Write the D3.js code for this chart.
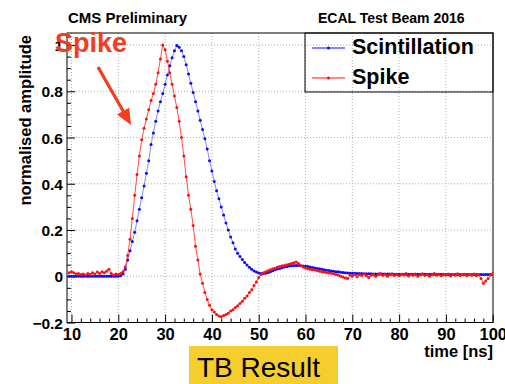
<!DOCTYPE html>
<html><head><meta charset="utf-8">
<script src="https://cdn.jsdelivr.net/npm/d3@7"></script>
<style>
body{margin:0;background:#fff}
svg{display:block}
text{font-family:"Liberation Sans",Arial,Helvetica,sans-serif}
</style>
</head><body>
<svg id="chart" width="505" height="384"></svg>
<script>
// ---- data (normalised amplitude vs time, sampled every 0.5 ns from 9.5 ns) ----
const timeStart = 9.5;
const timeStep = 0.5;
const scintillation = [
  0,
  0,0,0,0,0,0,0,0,0,0,
  0,0,0,0,0,0,0,0,0,0,
  0,0.002,0.01,0.03,0.07,0.11,0.15,0.19,0.24,0.29,
  0.34,0.39,0.445,0.50,0.57,0.62,0.67,0.715,0.755,0.79,
  0.83,0.87,0.91,0.945,0.975,0.998,0.99,0.975,0.95,0.915,
  0.875,0.835,0.795,0.755,0.715,0.675,0.635,0.595,0.55,0.50,
  0.455,0.41,0.37,0.335,0.30,0.265,0.23,0.20,0.17,0.145,
  0.118,0.10,0.085,0.072,0.06,0.049,0.039,0.03,0.023,0.018,
  0.014,0.012,0.012,0.013,0.016,0.02,0.024,0.028,0.031,0.034,
  0.037,0.04,0.042,0.044,0.045,0.046,0.046,0.046,0.045,0.044,
  0.043,0.042,0.040,0.038,0.036,0.034,0.032,0.030,0.028,0.026,
  0.025,0.023,0.022,0.020,0.019,0.017,0.016,0.015,0.014,0.013,
  0.013,0.013,0.012,0.012,0.012,0.011,0.011,0.011,0.011,0.010,
  0.010,0.010,0.010,0.010,0.010,0.010,0.010,0.009,0.009,0.009,
  0.009,0.009,0.009,0.009,0.009,0.009,0.009,0.009,0.009,0.009,
  0.009,0.009,0.009,0.009,0.009,0.009,0.009,0.009,0.009,0.009,
  0.008,0.008,0.008,0.008,0.008,0.008,0.008,0.008,0.008,0.008,
  0.008,0.008,0.008,0.008,0.008,0.008,0.008,0.008,0.008,0.008,
  0.008
];
const spike = [
  0.015,
  0.02,0.015,0.01,0.012,0.008,0.01,0.005,0.012,0.008,0.015,
  0.01,0.018,0.012,0.02,0.015,0.022,0.03,0.012,0.005,0.01,
  0.008,0.012,0.02,0.04,0.09,0.16,0.25,0.35,0.44,0.52,
  0.59,0.64,0.68,0.72,0.76,0.79,0.83,0.88,0.94,1.0,
  0.98,0.93,0.88,0.83,0.78,0.73,0.67,0.60,0.52,0.43,
  0.35,0.29,0.22,0.13,0.07,0.01,-0.03,-0.07,-0.10,-0.125,
  -0.145,-0.155,-0.165,-0.172,-0.175,-0.17,-0.165,-0.16,-0.15,-0.145,
  -0.135,-0.128,-0.118,-0.108,-0.095,-0.085,-0.07,-0.058,-0.04,-0.025,
  -0.005,0.008,0.015,0.02,0.024,0.028,0.032,0.035,0.04,0.042,
  0.045,0.047,0.05,0.052,0.055,0.058,0.062,0.055,0.045,0.04,
  0.036,0.032,0.03,0.028,0.027,0.025,0.022,0.02,0.018,0.016,
  0.014,0.013,0.011,0.008,0.005,0.0,-0.003,-0.008,-0.01,0.005,
  0.0,0.008,-0.002,0.006,0.003,0.01,0.002,-0.005,0.004,0.008,
  0.0,0.006,0.012,0.004,0.009,0.0,0.007,0.011,0.003,0.008,
  0.002,0.009,0.005,0.012,0.001,0.007,0.004,0.01,0.0,0.006,
  0.011,0.003,0.008,0.0,0.006,0.012,0.004,0.009,0.002,0.007,
  0.005,0.01,0.001,0.008,0.004,0.011,0.003,0.006,0.009,0.002,
  0.007,0.004,0.01,0.002,0.006,-0.01,-0.03,-0.02,-0.01,0.005,
  0.012
];
const xTicks = [10,20,30,40,50,60,70,80,90,100];
const xTickLabels = ["10","20","30","40","50","60","70","80","90","100"];
const yTicks = [-0.2,0,0.2,0.4,0.6,0.8,1];
const yTickLabels = ["\u22120.2","0","0.2","0.4","0.6","0.8","1"];
const seriesNames = ["Scintillation","Spike"];
const seriesColors = ["#0a0aff","#ff1010"];

// ---- layout ----
const L = 67, R = 493, T = 33, B = 322.5;
const svg = d3.select("#chart");
const x = d3.scaleLinear().domain([9.04, 100.06]).range([L, R]);
const y = d3.scaleLinear().domain([-0.2, 1.052]).range([B, T]);

const toPoints = arr => arr.map((v, i) => ({t: timeStart + i * timeStep, v}));
const series = [toPoints(scintillation), toPoints(spike)];

// grid
const grid = svg.append("g").attr("stroke", "#9a9a9a").attr("stroke-width", 0.8).attr("stroke-dasharray", "1,2");
xTicks.filter(t => x(t) > L + 1 && x(t) < R - 1).forEach(t => {
  grid.append("line").attr("x1", x(t)).attr("x2", x(t)).attr("y1", T).attr("y2", B);
});
yTicks.filter(v => y(v) > T + 1 && y(v) < B - 1).forEach(v => {
  grid.append("line").attr("x1", L).attr("x2", R).attr("y1", y(v)).attr("y2", y(v));
});

// axes (ticks inward, ROOT style)
const minorX = d3.range(10, 100.01, 2).filter(t => t % 10 !== 0);
const minorY = d3.range(-0.15, 1.05, 0.05).map(v => +v.toFixed(2)).filter(v => Math.abs(Math.round(v * 5) - v * 5) > 1e-6);

const xAxis = svg.append("g").attr("transform", `translate(0,${B})`)
  .call(d3.axisBottom(x).tickValues(xTicks).tickFormat((d, i) => xTickLabels[i]).tickSize(-8).tickPadding(5.5));
xAxis.select(".domain").remove();
xAxis.selectAll("text").attr("font-size", 16.5).attr("font-weight", "bold").attr("fill", "#000")
  .attr("font-family", '"Liberation Sans",Arial,sans-serif');
const xMinor = svg.append("g").attr("transform", `translate(0,${B})`)
  .call(d3.axisBottom(x).tickValues(minorX).tickFormat("").tickSize(-4));
xMinor.select(".domain").remove();

const yAxis = svg.append("g").attr("transform", `translate(${L},0)`)
  .call(d3.axisLeft(y).tickValues(yTicks).tickFormat((d, i) => yTickLabels[i]).tickSize(-8).tickPadding(4));
yAxis.select(".domain").remove();
yAxis.selectAll("text").attr("font-size", 15.5).attr("font-weight", "bold").attr("fill", "#000")
  .attr("font-family", '"Liberation Sans",Arial,sans-serif').attr("dy", "0.36em");
const yMinor = svg.append("g").attr("transform", `translate(${L},0)`)
  .call(d3.axisLeft(y).tickValues(minorY).tickFormat("").tickSize(-4));
yMinor.select(".domain").remove();

// frame
svg.append("rect").attr("x", L).attr("y", T).attr("width", R - L).attr("height", B - T)
  .attr("fill", "none").attr("stroke", "#000").attr("stroke-width", 1);

// data
const clip = svg.append("clipPath").attr("id", "plotclip").append("rect")
  .attr("x", L).attr("y", T).attr("width", R - L).attr("height", B - T);
const plot = svg.append("g").attr("clip-path", "url(#plotclip)");
const line = d3.line().x(d => x(d.t)).y(d => y(d.v));
series.forEach((pts, k) => {
  plot.append("path").datum(pts).attr("d", line).attr("fill", "none")
    .attr("stroke", seriesColors[k]).attr("stroke-width", k === 0 ? 0.9 : 1).attr("stroke-opacity", k === 0 ? 0.55 : 0.75);
  plot.append("g").selectAll("circle").data(pts).join("circle")
    .attr("cx", d => x(d.t)).attr("cy", d => y(d.v)).attr("r", 1.5).attr("fill", seriesColors[k]);
});

// legend
svg.append("rect").attr("x", 305).attr("y", T).attr("width", R - 305).attr("height", 59)
  .attr("fill", "none").attr("stroke", "#000").attr("stroke-width", 1);
seriesNames.forEach((name, k) => {
  const ly = 48 + k * 30;
  svg.append("line").attr("x1", 312).attr("x2", 345).attr("y1", ly).attr("y2", ly)
    .attr("stroke", seriesColors[k]).attr("stroke-width", 1);
  svg.append("circle").attr("cx", 328.5).attr("cy", ly).attr("r", 1.5).attr("fill", seriesColors[k]);
  svg.append("text").attr("x", 352).attr("y", ly + 5.5).attr("font-size", 21.5).attr("font-weight", "bold")
    .attr("fill", "#000").text(name);
});

// titles
svg.append("text").attr("x", 68).attr("y", 23).attr("font-size", 15).attr("font-weight", "bold").text("CMS Preliminary");
svg.append("text").attr("x", 318).attr("y", 23).attr("font-size", 14).attr("font-weight", "bold").text("ECAL Test Beam 2016");
svg.append("text").attr("transform", "translate(31,35) rotate(-90)").attr("text-anchor", "end")
  .attr("font-size", 16.5).attr("font-weight", "bold").text("normalised amplitude");
svg.append("text").attr("x", 493).attr("y", 357).attr("text-anchor", "end")
  .attr("font-size", 16.5).attr("font-weight", "bold").text("time [ns]");

// Spike annotation with arrow
const annColor = "#f43c1e";
svg.append("text").attr("x", 55).attr("y", 52).attr("font-size", 27).attr("font-weight", "bold")
  .attr("fill", annColor).text("Spike");
const a0 = [98, 67], a1 = [131, 125];
const dx = a1[0] - a0[0], dy = a1[1] - a0[1], len = Math.hypot(dx, dy);
const ux = dx / len, uy = dy / len, hl = 16, hw = 7;
const bx = a1[0] - ux * hl, by = a1[1] - uy * hl;
svg.append("line").attr("x1", a0[0]).attr("y1", a0[1]).attr("x2", bx + ux * 2).attr("y2", by + uy * 2)
  .attr("stroke", annColor).attr("stroke-width", 3.2);
svg.append("path").attr("d", `M${a1[0]},${a1[1]}L${bx - uy * hw},${by + ux * hw}L${bx + uy * hw},${by - ux * hw}Z`)
  .attr("fill", annColor);

// TB Result badge
svg.append("rect").attr("x", 189).attr("y", 346).attr("width", 149).attr("height", 38).attr("fill", "#f5cd2c");
svg.append("text").attr("x", 197).attr("y", 377).attr("font-size", 28).attr("fill", "#000").text("TB Result");
</script>
</body></html>
